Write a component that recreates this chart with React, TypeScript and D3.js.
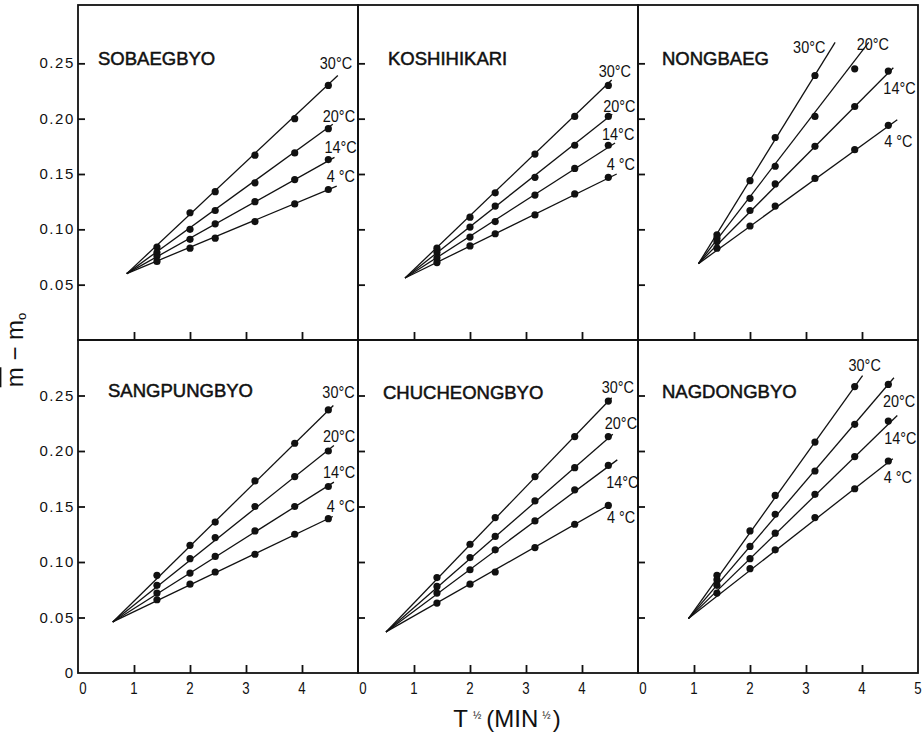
import React, { useEffect, useRef } from "react";
import * as d3 from "d3";

// panel titles (rice varieties), left to right, top row first
const varieties = [
  "SOBAEGBYO",
  "KOSHIHIKARI",
  "NONGBAEG",
  "SANGPUNGBYO",
  "CHUCHEONGBYO",
  "NAGDONGBYO",
];
const temperatures = ["30", "20", "14", "4 "];

// square root of soaking time (min^1/2) where points were measured
const sqrtTime = [1.41, 2.0, 2.45, 3.16, 3.87, 4.47];
const xTicks = [1, 2, 3, 4];
const xTickLabels = [0, 1, 2, 3, 4];
const yTicks = [0.05, 0.1, 0.15, 0.2, 0.25];

// common starting point of the four fitted lines in each panel [x, y]
const origins = [
  [0.87, 0.06],
  [0.84, 0.056],
  [1.08, 0.069],
  [0.62, 0.046],
  [0.5, 0.037],
  [0.9, 0.049],
];

// measured points, one row per temperature (30, 20, 14, 4 C)
const sobaegbyo = [
  [0.084, 0.115, 0.134, 0.167, 0.2, 0.23],
  [0.079, 0.1, 0.117, 0.142, 0.169, 0.191],
  [0.076, 0.091, 0.105, 0.125, 0.145, 0.163],
  [0.071, 0.083, 0.092, 0.107, 0.123, 0.136],
];
const koshihikari = [
  [0.083, 0.111, 0.133, 0.168, 0.202, 0.23],
  [0.079, 0.102, 0.121, 0.147, 0.176, 0.202],
  [0.074, 0.093, 0.107, 0.131, 0.155, 0.176],
  [0.07, 0.085, 0.096, 0.113, 0.132, 0.147],
];
const nongbaeg = [
  [0.095, 0.144, 0.183, 0.239],
  [0.092, 0.128, 0.157, 0.202, 0.245],
  [0.089, 0.117, 0.141, 0.175, 0.211, 0.243],
  [0.083, 0.103, 0.121, 0.146, 0.172, 0.194],
];
const sangpungbyo = [
  [0.088, 0.115, 0.136, 0.173, 0.207, 0.237],
  [0.079, 0.103, 0.122, 0.15, 0.177, 0.2],
  [0.072, 0.09, 0.105, 0.128, 0.15, 0.168],
  [0.066, 0.08, 0.091, 0.107, 0.125, 0.139],
];
const chucheongbyo = [
  [0.086, 0.116, 0.14, 0.177, 0.213, 0.245],
  [0.078, 0.104, 0.123, 0.155, 0.185, 0.213],
  [0.072, 0.093, 0.111, 0.137, 0.165, 0.187],
  [0.063, 0.08, 0.091, 0.113, 0.134, 0.151],
];
const nagdongbyo = [
  [0.088, 0.128, 0.16, 0.208, 0.258],
  [0.084, 0.114, 0.143, 0.182, 0.224, 0.26],
  [0.079, 0.103, 0.126, 0.161, 0.195, 0.227],
  [0.072, 0.094, 0.111, 0.14, 0.166, 0.191],
];

// where each fitted line stops [x, y]
const sobaegbyoEnds = [[4.64, 0.239], [4.55, 0.195], [4.58, 0.165], [4.62, 0.139]];
const koshihikariEnds = [[4.53, 0.235], [4.54, 0.204], [4.59, 0.178], [4.62, 0.15]];
const nongbaegEnds = [[3.52, 0.269], [4.12, 0.269], [4.56, 0.246], [4.63, 0.199]];
const sangpungbyoEnds = [[4.56, 0.241], [4.57, 0.205], [4.57, 0.172], [4.55, 0.141]];
const chucheongbyoEnds = [[4.53, 0.248], [4.55, 0.215], [4.63, 0.192], [4.5, 0.152]];
const nagdongbyoEnds = [[4.01, 0.268], [4.57, 0.266], [4.63, 0.232], [4.55, 0.193]];

const panelPoints = [sobaegbyo, koshihikari, nongbaeg, sangpungbyo, chucheongbyo, nagdongbyo];
const panelEnds = [
  sobaegbyoEnds,
  koshihikariEnds,
  nongbaegEnds,
  sangpungbyoEnds,
  chucheongbyoEnds,
  nagdongbyoEnds,
];

// label offsets in px from the end of each line
const labelOffsets = [
  [[-18, -7], [-10, -2], [-10, -4], [-10, -4]],
  [[-13, -3], [-9, -2], [-13, -3], [-10, -4]],
  [[-42, 11], [-12, 8], [-10, 26], [-13, 27]],
  [[-11, -7], [-11, -3], [-11, -4], [-6, -4]],
  [[-10, -5], [-8, -5], [-11, 28], [-3, 19]],
  [[-14, -5], [-11, 29], [-13, 29], [-9, 24]],
];
const titleOffsets = [[20, 60], [30, 60], [24, 60], [30, 57], [25, 59], [24, 58]];

const FONT = "'Liberation Sans', Arial, Helvetica, sans-serif";

const App = () => {
  const ref = useRef<SVGSVGElement | null>(null);

  useEffect(() => {
    if (ref.current) drawPanels(ref.current);
  }, []);

  return (
    <svg
      ref={ref}
      width={922}
      height={737}
      style={{ position: "absolute", left: 0, top: 0, background: "#fff" }}
    />
  );
};

function drawPanels(node: SVGSVGElement) {
  const svg = d3.select(node);
  svg.selectAll("*").remove();

  const left = 78;
  const panelWidth = 280;
  const rows = [
    { top: 5, zero: 340, max: 8 },
    { top: 340, zero: 673, max: 340 },
  ];

  panelPoints.forEach((series, i) => {
    const col = i % 3;
    const row = Math.floor(i / 3);
    const x0 = left + col * panelWidth;
    const r = rows[row];

    const x = d3.scaleLinear().domain([0, 5]).range([x0, x0 + panelWidth]);
    const y = d3.scaleLinear().domain([0, 0.3]).range([r.zero, r.max]);

    const g = svg.append("g");

    // frame
    g.append("rect")
      .attr("x", x0)
      .attr("y", r.top)
      .attr("width", panelWidth)
      .attr("height", r.zero - r.top)
      .attr("fill", "none")
      .attr("stroke", "#111")
      .attr("stroke-width", 1.8);

    // inward ticks on the left edge
    g.append("g")
      .attr("transform", `translate(${x0},0)`)
      .call(d3.axisRight(y).tickValues(yTicks).tickSize(7).tickFormat(() => ""))
      .call((a) => a.select(".domain").remove())
      .selectAll("line")
      .attr("stroke", "#111")
      .attr("stroke-width", 1.8);

    // inward ticks on the bottom edge
    g.append("g")
      .attr("transform", `translate(0,${r.zero})`)
      .call(d3.axisTop(x).tickValues(xTicks).tickSize(8).tickFormat(() => ""))
      .call((a) => a.select(".domain").remove())
      .selectAll("line")
      .attr("stroke", "#111")
      .attr("stroke-width", 1.8);

    // y tick labels on the left column
    if (col === 0) {
      const labels = row === 1 ? [0, ...yTicks] : yTicks;
      g.selectAll(".ylab")
        .data(labels)
        .enter()
        .append("text")
        .attr("x", (d) => (d === 0 ? 73 : 75))
        .attr("y", (d) => y(d) + 5)
        .attr("text-anchor", "end")
        .style("font-family", FONT)
        .style("font-size", "15px")
        .style("letter-spacing", (d) => (d === 0 ? "0px" : "1.6px"))
        .attr("fill", "#111")
        .text((d) => (d === 0 ? "0" : d3.format(".2f")(d)));
    }

    // x tick labels on the bottom row
    if (row === 1) {
      const labels = col === 2 ? [...xTickLabels, 5] : xTickLabels;
      g.selectAll(".xlab")
        .data(labels)
        .enter()
        .append("text")
        .attr(
          "transform",
          (d) => `translate(${x(d) + (d === 0 ? 5 : 0)},${r.zero + 21}) scale(0.78,1)`
        )
        .attr("text-anchor", "middle")
        .style("font-family", FONT)
        .style("font-size", "17px")
        .attr("fill", "#111")
        .text((d) => d);
    }

    // title
    g.append("text")
      .attr("x", x0 + titleOffsets[i][0])
      .attr("y", r.top + titleOffsets[i][1])
      .style("font-family", FONT)
      .style("font-size", "18.5px")
      .attr("fill", "#111")
      .attr("stroke", "#111")
      .attr("stroke-width", 0.5)
      .text(varieties[i]);

    const line = d3
      .line<number[]>()
      .x((d) => x(d[0]))
      .y((d) => y(d[1]));

    series.forEach((values, s) => {
      const end = panelEnds[i][s];

      g.append("path")
        .datum([origins[i], end])
        .attr("d", line)
        .attr("fill", "none")
        .attr("stroke", "#111")
        .attr("stroke-width", 1.3);

      g.selectAll(`.pt${s}`)
        .data(values)
        .enter()
        .append("circle")
        .attr("cx", (_, k) => x(sqrtTime[k]))
        .attr("cy", (d) => y(d))
        .attr("r", 3.6)
        .attr("fill", "#111");

      const [dx, dy] = labelOffsets[i][s];
      g.append("text")
        .attr("transform", `translate(${x(end[0]) + dx},${y(end[1]) + dy}) scale(0.85,1)`)
        .style("font-family", FONT)
        .style("font-size", "17px")
        .attr("fill", "#111")
        .text(`${temperatures[s]}°C`);
    });
  });

  // x axis title
  const xTitle = svg
    .append("text")
    .attr("x", 507)
    .attr("y", 727)
    .attr("text-anchor", "middle")
    .style("font-family", FONT)
    .style("font-size", "24px")
    .attr("fill", "#111");
  xTitle.append("tspan").text("T");
  xTitle.append("tspan").attr("dx", 5).attr("dy", -8).style("font-size", "10px").text("½");
  xTitle.append("tspan").attr("dx", 5).attr("dy", 8).text("(MIN");
  xTitle.append("tspan").attr("dx", 4).attr("dy", -8).style("font-size", "10px").text("½");
  xTitle.append("tspan").attr("dx", 2).attr("dy", 8).text(")");

  // y axis title
  const yTitle = svg
    .append("text")
    .attr("transform", "translate(23,350) rotate(-90)")
    .attr("text-anchor", "middle")
    .style("font-family", FONT)
    .style("font-size", "24px")
    .attr("fill", "#111");
  yTitle.append("tspan").style("text-decoration", "overline").text("m");
  yTitle.append("tspan").text(" − m");
  yTitle.append("tspan").attr("dy", 3).style("font-size", "13px").text("o");
}

export default App;
